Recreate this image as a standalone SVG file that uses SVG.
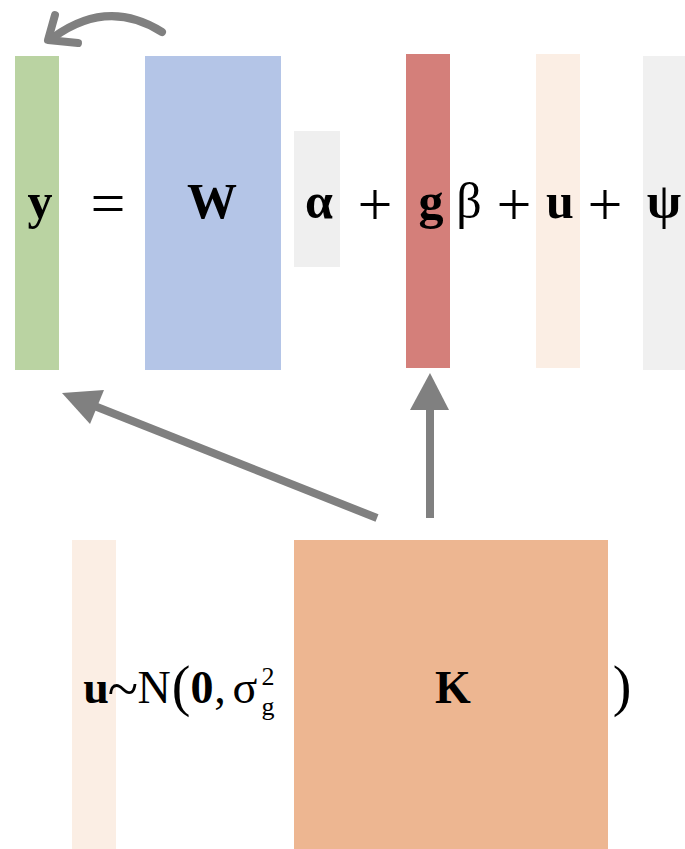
<svg xmlns="http://www.w3.org/2000/svg" width="685" height="849" viewBox="0 0 685 849">
<style>
.t{font-family:"Liberation Serif","DejaVu Serif",serif;fill:#000;text-anchor:middle}
.top{font-size:50px}
.op{font-size:62px}
.bot{font-size:46px}
.b{font-weight:bold}
.con{stroke:#808080;stroke-width:8;fill:none}
.head{fill:#808080;stroke:none}
</style>
<rect width="685" height="849" fill="#fff"/>
<g id="y-vec"><rect x="15" y="56" width="44" height="314" fill="#bad3a2"/><text class="t top b" x="40" y="218">y</text></g>
<g id="equals"><text class="t op" x="108" y="224">=</text></g>
<g id="W-mat"><rect x="145" y="56" width="136" height="314" fill="#b4c5e7"/><text class="t top b" x="212" y="218">W</text></g>
<g id="alpha-vec"><rect x="294" y="131" width="46" height="136" fill="#efefef"/><text class="t top b" x="319" y="218">α</text></g>
<g id="plus1"><text class="t op" x="375" y="225">+</text></g>
<g id="g-vec"><rect x="406" y="54" width="44" height="314" fill="#d47f7a"/><text class="t top b" x="431" y="218">g</text></g>
<g id="beta"><text class="t top" x="469" y="218">β</text></g>
<g id="plus2"><text class="t op" x="514" y="225">+</text></g>
<g id="u-vec"><rect x="536" y="54" width="44" height="314" fill="#fbeee4"/><text class="t top b" x="560" y="218">u</text></g>
<g id="plus3"><text class="t op" x="605" y="225">+</text></g>
<g id="psi-vec"><rect x="643" y="56" width="42" height="314" fill="#f0f0f0"/><text class="t top b" x="664" y="218">ψ</text></g>

<g id="u-dist"><rect x="72" y="540" width="44" height="309" fill="#fbeee4"/><text class="t bot b" x="96" y="703">u</text></g>
<g id="normal-expr">
<text class="t" style="font-size:56px" x="123" y="708">~</text>
<text class="t bot" x="154" y="703">N</text>
<text class="t" style="font-size:56px" x="181" y="705">(</text>
<text class="t bot b" x="202" y="703">0</text>
<text class="t bot" x="220" y="703">,</text>
<text class="t bot" x="245" y="703">σ</text>
<text class="t" style="font-size:26px" x="268" y="715">g</text>
<text class="t" style="font-size:26px" x="268" y="685">2</text>
</g>
<g id="K-mat"><rect x="294" y="540" width="314" height="309" fill="#edb691"/><text class="t bot b" x="453" y="703">K</text></g>
<g id="close-paren"><text class="t" style="font-size:56px" x="622" y="705">)</text></g>

<g id="connectors">
<path class="con" d="M162,32 Q108,-2 54,37" stroke-linecap="round"/>
<path class="con" d="M55,15 L48,40 L78,43" stroke-linecap="round" stroke-linejoin="round"/>
<line class="con" x1="377" y1="518" x2="92" y2="405"/>
<polygon class="head" points="62,393 104,390 90,424"/>
<line class="con" x1="430" y1="518" x2="430" y2="405"/>
<polygon class="head" points="430,373 410,410 449,410"/>
</g>
</svg>
